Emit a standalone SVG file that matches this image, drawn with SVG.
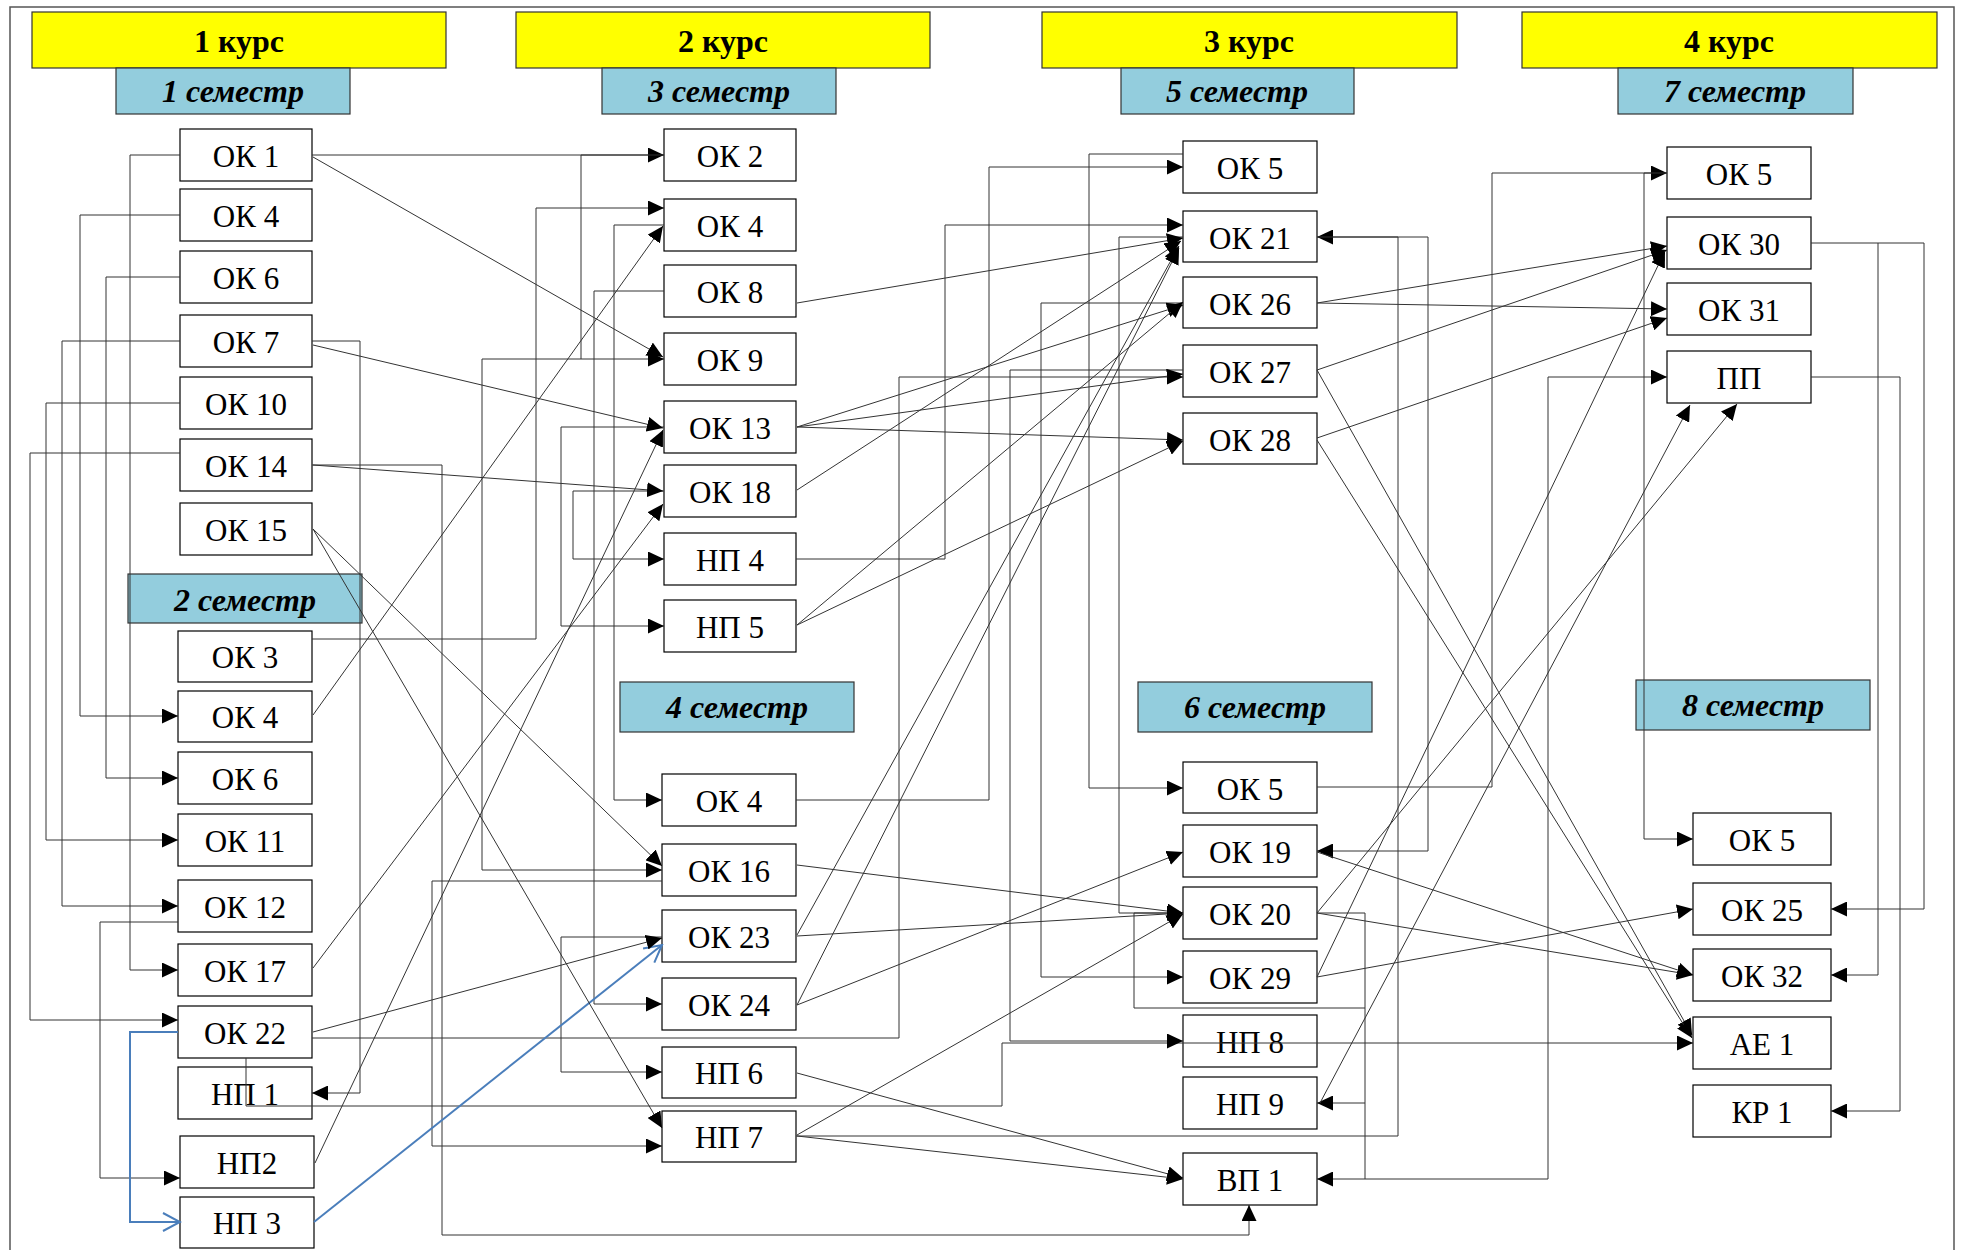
<svg xmlns="http://www.w3.org/2000/svg" width="1961" height="1250" viewBox="0 0 1961 1250">
<defs>
<marker id="ah" markerUnits="userSpaceOnUse" markerWidth="16" markerHeight="15" refX="16" refY="7.5" orient="auto"><path d="M0,0 L16,7.5 L0,15 z" fill="#000"/></marker>
<marker id="oh" markerUnits="userSpaceOnUse" markerWidth="20" markerHeight="20" refX="18" refY="10" orient="auto"><path d="M1,1 L18,10 L1,19" fill="none" stroke="#4A7EBB" stroke-width="2"/></marker>
</defs>
<style>
.n rect{fill:#fff;stroke:#000;stroke-width:1.2}
.n text{font-family:"Liberation Serif","Times New Roman",serif;font-size:31px;text-anchor:middle;fill:#000}
.yr rect{fill:#FFFF00;stroke:#333;stroke-width:1.2}
.yr text{font-family:"Liberation Serif","Times New Roman",serif;font-size:32px;font-weight:bold;text-anchor:middle}
.sm rect{fill:#93CDDD;stroke:#333;stroke-width:1.2}
.sm text{font-family:"Liberation Serif","Times New Roman",serif;font-size:32px;font-weight:bold;font-style:italic;text-anchor:middle}
#connectors path{fill:none;stroke:#333;stroke-width:1}
#connectors path.a{marker-end:url(#ah)}
#connectors path.b{stroke:#4A7EBB;stroke-width:2;marker-end:url(#oh)}
#connectors path.bn{stroke:#4A7EBB;stroke-width:2}
</style>
<rect x="0" y="0" width="1961" height="1250" fill="#fff"/>
<path d="M10,1250 V7 H1954 V1250" fill="none" stroke="#555" stroke-width="1.5"/>

<g id="headers">
<g class="yr" id="y1"><rect x="32" y="12" width="414" height="56"/><text x="239" y="52">1 курс</text></g>
<g class="yr" id="y2"><rect x="516" y="12" width="414" height="56"/><text x="723" y="52">2 курс</text></g>
<g class="yr" id="y3"><rect x="1042" y="12" width="415" height="56"/><text x="1249" y="52">3 курс</text></g>
<g class="yr" id="y4"><rect x="1522" y="12" width="415" height="56"/><text x="1729" y="52">4 курс</text></g>
<g class="sm" id="s1"><rect x="116" y="68" width="234" height="46"/><text x="233" y="102">1 семестр</text></g>
<g class="sm" id="s3"><rect x="602" y="68" width="234" height="46"/><text x="719" y="102">3 семестр</text></g>
<g class="sm" id="s5"><rect x="1121" y="68" width="233" height="46"/><text x="1237" y="102">5 семестр</text></g>
<g class="sm" id="s7"><rect x="1618" y="68" width="235" height="46"/><text x="1735" y="102">7 семестр</text></g>
<g class="sm" id="s2"><rect x="128" y="574" width="234" height="49"/><text x="245" y="611">2 семестр</text></g>
<g class="sm" id="s4"><rect x="620" y="682" width="234" height="50"/><text x="737" y="718">4 семестр</text></g>
<g class="sm" id="s6"><rect x="1138" y="682" width="234" height="50"/><text x="1255" y="718">6 семестр</text></g>
<g class="sm" id="s8"><rect x="1636" y="680" width="234" height="50"/><text x="1753" y="716">8 семестр</text></g>
</g>

<g id="n1_ok1" class="n"><rect x="180" y="129" width="132" height="52"/><text x="246" y="167">ОК 1</text></g>
<g id="n1_ok4" class="n"><rect x="180" y="189" width="132" height="52"/><text x="246" y="227">ОК 4</text></g>
<g id="n1_ok6" class="n"><rect x="180" y="251" width="132" height="52"/><text x="246" y="289">ОК 6</text></g>
<g id="n1_ok7" class="n"><rect x="180" y="315" width="132" height="52"/><text x="246" y="353">ОК 7</text></g>
<g id="n1_ok10" class="n"><rect x="180" y="377" width="132" height="52"/><text x="246" y="415">ОК 10</text></g>
<g id="n1_ok14" class="n"><rect x="180" y="439" width="132" height="52"/><text x="246" y="477">ОК 14</text></g>
<g id="n1_ok15" class="n"><rect x="180" y="503" width="132" height="52"/><text x="246" y="541">ОК 15</text></g>

<g id="n2_ok3" class="n"><rect x="178" y="631" width="134" height="51"/><text x="245" y="668">ОК 3</text></g>
<g id="n2_ok4" class="n"><rect x="178" y="691" width="134" height="51"/><text x="245" y="728">ОК 4</text></g>
<g id="n2_ok6" class="n"><rect x="178" y="752" width="134" height="52"/><text x="245" y="790">ОК 6</text></g>
<g id="n2_ok11" class="n"><rect x="178" y="814" width="134" height="52"/><text x="245" y="852">ОК 11</text></g>
<g id="n2_ok12" class="n"><rect x="178" y="880" width="134" height="52"/><text x="245" y="918">ОК 12</text></g>
<g id="n2_ok17" class="n"><rect x="178" y="944" width="134" height="52"/><text x="245" y="982">ОК 17</text></g>
<g id="n2_ok22" class="n"><rect x="178" y="1006" width="134" height="52"/><text x="245" y="1044">ОК 22</text></g>
<g id="n2_np1" class="n"><rect x="178" y="1067" width="134" height="52"/><text x="245" y="1105">НП 1</text></g>
<g id="n2_np2" class="n"><rect x="180" y="1136" width="134" height="52"/><text x="247" y="1174">НП2</text></g>
<g id="n2_np3" class="n"><rect x="180" y="1197" width="134" height="51"/><text x="247" y="1234">НП 3</text></g>

<g id="n3_ok2" class="n"><rect x="664" y="129" width="132" height="52"/><text x="730" y="167">ОК 2</text></g>
<g id="n3_ok4" class="n"><rect x="664" y="199" width="132" height="52"/><text x="730" y="237">ОК 4</text></g>
<g id="n3_ok8" class="n"><rect x="664" y="265" width="132" height="52"/><text x="730" y="303">ОК 8</text></g>
<g id="n3_ok9" class="n"><rect x="664" y="333" width="132" height="52"/><text x="730" y="371">ОК 9</text></g>
<g id="n3_ok13" class="n"><rect x="664" y="401" width="132" height="52"/><text x="730" y="439">ОК 13</text></g>
<g id="n3_ok18" class="n"><rect x="664" y="465" width="132" height="52"/><text x="730" y="503">ОК 18</text></g>
<g id="n3_np4" class="n"><rect x="664" y="533" width="132" height="52"/><text x="730" y="571">НП 4</text></g>
<g id="n3_np5" class="n"><rect x="664" y="600" width="132" height="52"/><text x="730" y="638">НП 5</text></g>

<g id="n4_ok4" class="n"><rect x="662" y="774" width="134" height="52"/><text x="729" y="812">ОК 4</text></g>
<g id="n4_ok16" class="n"><rect x="662" y="844" width="134" height="52"/><text x="729" y="882">ОК 16</text></g>
<g id="n4_ok23" class="n"><rect x="662" y="910" width="134" height="52"/><text x="729" y="948">ОК 23</text></g>
<g id="n4_ok24" class="n"><rect x="662" y="978" width="134" height="52"/><text x="729" y="1016">ОК 24</text></g>
<g id="n4_np6" class="n"><rect x="662" y="1047" width="134" height="51"/><text x="729" y="1084">НП 6</text></g>
<g id="n4_np7" class="n"><rect x="662" y="1111" width="134" height="51"/><text x="729" y="1148">НП 7</text></g>

<g id="n5_ok5" class="n"><rect x="1183" y="141" width="134" height="52"/><text x="1250" y="179">ОК 5</text></g>
<g id="n5_ok21" class="n"><rect x="1183" y="211" width="134" height="51"/><text x="1250" y="249">ОК 21</text></g>
<g id="n5_ok26" class="n"><rect x="1183" y="277" width="134" height="51"/><text x="1250" y="315">ОК 26</text></g>
<g id="n5_ok27" class="n"><rect x="1183" y="345" width="134" height="52"/><text x="1250" y="383">ОК 27</text></g>
<g id="n5_ok28" class="n"><rect x="1183" y="413" width="134" height="51"/><text x="1250" y="451">ОК 28</text></g>

<g id="n6_ok5" class="n"><rect x="1183" y="762" width="134" height="51"/><text x="1250" y="800">ОК 5</text></g>
<g id="n6_ok19" class="n"><rect x="1183" y="825" width="134" height="52"/><text x="1250" y="863">ОК 19</text></g>
<g id="n6_ok20" class="n"><rect x="1183" y="887" width="134" height="52"/><text x="1250" y="925">ОК 20</text></g>
<g id="n6_ok29" class="n"><rect x="1183" y="951" width="134" height="52"/><text x="1250" y="989">ОК 29</text></g>
<g id="n6_np8" class="n"><rect x="1183" y="1015" width="134" height="52"/><text x="1250" y="1053">НП 8</text></g>
<g id="n6_np9" class="n"><rect x="1183" y="1077" width="134" height="52"/><text x="1250" y="1115">НП 9</text></g>
<g id="n6_vp1" class="n"><rect x="1183" y="1153" width="134" height="52"/><text x="1250" y="1191">ВП 1</text></g>

<g id="n7_ok5" class="n"><rect x="1667" y="147" width="144" height="52"/><text x="1739" y="185">ОК 5</text></g>
<g id="n7_ok30" class="n"><rect x="1667" y="217" width="144" height="52"/><text x="1739" y="255">ОК 30</text></g>
<g id="n7_ok31" class="n"><rect x="1667" y="283" width="144" height="52"/><text x="1739" y="321">ОК 31</text></g>
<g id="n7_pp" class="n"><rect x="1667" y="351" width="144" height="52"/><text x="1739" y="389">ПП</text></g>

<g id="n8_ok5" class="n"><rect x="1693" y="813" width="138" height="52"/><text x="1762" y="851">ОК 5</text></g>
<g id="n8_ok25" class="n"><rect x="1693" y="883" width="138" height="52"/><text x="1762" y="921">ОК 25</text></g>
<g id="n8_ok32" class="n"><rect x="1693" y="949" width="138" height="52"/><text x="1762" y="987">ОК 32</text></g>
<g id="n8_ae1" class="n"><rect x="1693" y="1017" width="138" height="52"/><text x="1762" y="1055">АЕ 1</text></g>
<g id="n8_kr1" class="n"><rect x="1693" y="1085" width="138" height="52"/><text x="1762" y="1123">КР 1</text></g>

<g id="connectors">
<path class="a" d="M180,155 H130 V970 H178"/>
<path class="a" d="M180,215 H80 V716 H178"/>
<path class="a" d="M180,277 H106 V778 H178"/>
<path class="a" d="M180,341 H62 V906 H178"/>
<path class="a" d="M180,403 H46 V840 H178"/>
<path class="a" d="M180,453 H30 V1020 H178"/>
<path class="a" d="M312,341 H360 V1093 H312"/>
<path class="a" d="M312,465 H442 V1235 H1249 V1205"/>
<path class="a" d="M178,922 H100 V1178 H180"/>
<path class="a" d="M246,1058 V1106 H1002 V1043 H1693"/>
<path class="a" d="M312,1038 H899 V377 H1183"/>
<path class="a" d="M312,639 H536 V208 H664"/>
<path class="a" d="M312,155 H664"/>
<path class="a" d="M664,155 H581 V359 H664"/>
<path class="a" d="M581,359 H482 V870 H662"/>
<path class="a" d="M664,291 H594 V1004 H662"/>
<path class="a" d="M664,225 H614 V800 H662"/>
<path class="a" d="M664,427 H561 V626 H664"/>
<path class="a" d="M664,491 H573 V559 H664"/>
<path class="a" d="M662,937 H561 V1072 H662"/>
<path class="a" d="M662,881 H432 V1146 H662"/>
<path class="a" d="M796,559 H945 V225 H1183"/>
<path class="a" d="M796,800 H989 V167 H1183"/>
<path class="a" d="M1183,154 H1089 V788 H1183"/>
<path class="a" d="M1183,237 H1119 V913 H1183"/>
<path class="a" d="M1183,303 H1041 V977 H1183"/>
<path class="a" d="M1183,370 H1010 V1041 H1183"/>
<path class="a" d="M796,1136 H1398 V237 H1317"/>
<path class="a" d="M1317,237 H1428 V851 H1317"/>
<path class="a" d="M1317,913 H1365 V1103 H1317"/>
<path class="a" d="M1365,1103 V1179 H1317"/>
<path d="M1183,913 H1134 V1008 H1365"/>
<path class="a" d="M1365,1179 H1548 V377 H1667"/>
<path class="a" d="M1317,787 H1492 V173 H1667"/>
<path class="a" d="M1667,173 H1644 V839 H1693"/>
<path class="a" d="M1811,243 H1924 V909 H1831"/>
<path class="a" d="M1878,243 V975 H1831"/>
<path class="a" d="M1811,377 H1900 V1111 H1831"/>

<path class="bn" d="M178,1032 H130 V1222 H178"/>
<path class="b" d="M170,1222 H180"/>
<path class="b" d="M314,1222 L662,945"/>

<path class="a" d="M313,157 L663,357"/>
<path class="a" d="M313,345 L663,428"/>
<path class="a" d="M313,465 L663,491"/>
<path class="a" d="M313,529 L662,866"/>
<path class="a" d="M313,529 L662,1128"/>
<path class="a" d="M313,715 L663,226"/>
<path class="a" d="M313,968 L663,504"/>
<path class="a" d="M315,1163 L663,430"/>
<path class="a" d="M313,1032 L662,938"/>
<path class="a" d="M797,303 L1183,238"/>
<path class="a" d="M797,427 L1183,305"/>
<path class="a" d="M797,427 L1183,374"/>
<path class="a" d="M797,427 L1183,440"/>
<path class="a" d="M797,490 L1181,241"/>
<path class="a" d="M797,625 L1183,302"/>
<path class="a" d="M797,625 L1183,441"/>
<path class="a" d="M797,935 L1179,246"/>
<path class="a" d="M797,1005 L1179,248"/>
<path class="a" d="M797,865 L1183,913"/>
<path class="a" d="M797,936 L1183,913"/>
<path class="a" d="M797,1005 L1183,852"/>
<path class="a" d="M797,1135 L1183,914"/>
<path class="a" d="M797,1073 L1183,1178"/>
<path class="a" d="M797,1136 L1183,1179"/>
<path class="a" d="M1317,303 L1667,246"/>
<path class="a" d="M1317,303 L1667,309"/>
<path class="a" d="M1317,370 L1667,250"/>
<path class="a" d="M1317,438 L1667,318"/>
<path class="a" d="M1317,370 L1692,1035"/>
<path class="a" d="M1317,440 L1692,1038"/>
<path class="a" d="M1317,977 L1665,251"/>
<path class="a" d="M1317,977 L1693,909"/>
<path class="a" d="M1317,913 L1737,404"/>
<path class="a" d="M1317,913 L1693,975"/>
<path class="a" d="M1317,852 L1693,975"/>
<path class="a" d="M1320,1103 L1690,405"/>
</g>
</svg>
